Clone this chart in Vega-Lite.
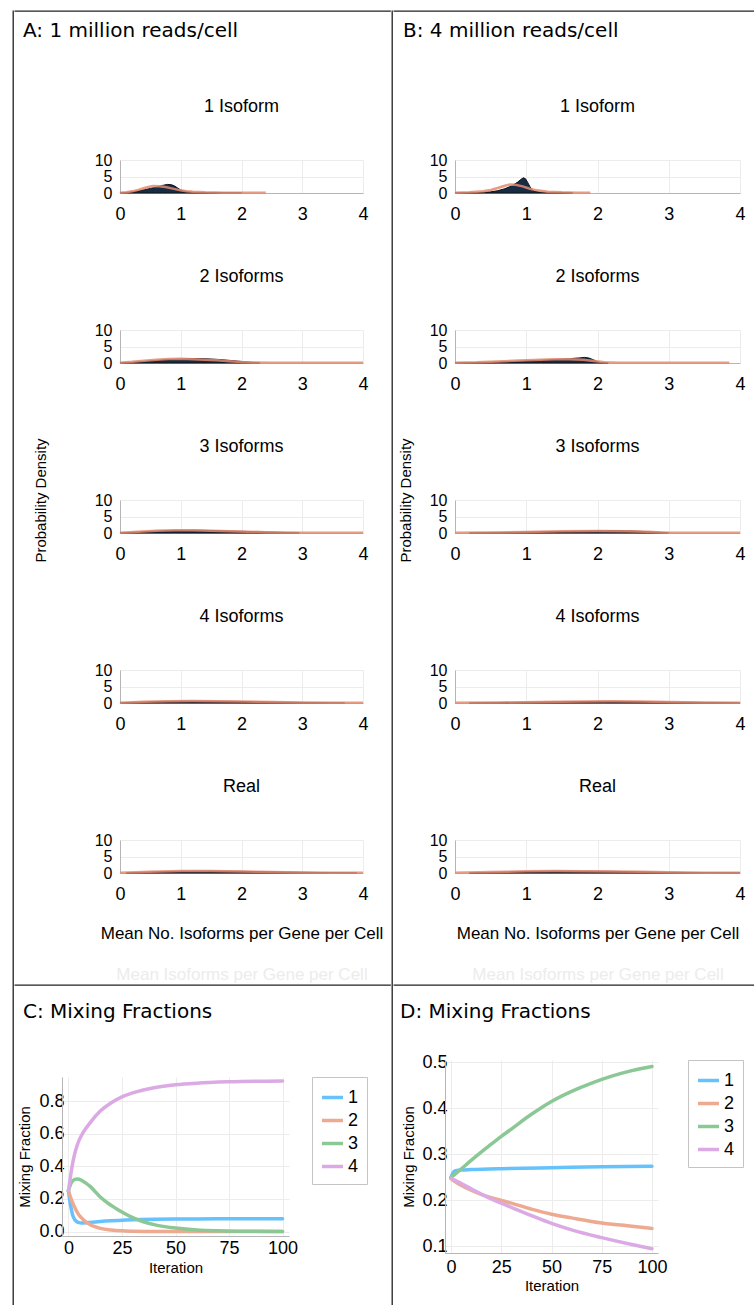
{
"$schema": "https://vega.github.io/schema/vega-lite/v6.json",
"padding": {"left": 12, "top": 10, "right": 0, "bottom": 0},
"background": "white",
"config": {
  "view": {"stroke": null},
  "axis": {"labelFont": "Liberation Sans", "titleFont": "Liberation Sans", "labelColor": "#000", "titleColor": "#000", "titleFontWeight": "normal", "domainColor": "#b5b5b5", "gridColor": "#ececec", "ticks": false, "labelOverlap": false, "labelFlush": false, "labelBound": false},
  "title": {"font": "Liberation Sans", "fontWeight": "normal", "color": "#000"},
  "legend": {"labelFont": "Liberation Sans"}
},
"datasets": {
  "A1d": [{"x":0,"y":0.05},{"x":0.1,"y":0.15},{"x":0.2,"y":0.35},{"x":0.3,"y":0.6},{"x":0.4,"y":1.0},{"x":0.5,"y":1.4},{"x":0.6,"y":1.8},{"x":0.7,"y":2.3},{"x":0.78,"y":2.6},{"x":0.85,"y":2.5},{"x":0.9,"y":2.1},{"x":0.95,"y":1.5},{"x":1.0,"y":0.9},{"x":1.1,"y":0.4},{"x":1.2,"y":0.2},{"x":1.4,"y":0.1},{"x":1.7,"y":0.05},{"x":2.0,"y":0.03}],
  "A1s": [{"x":0,"y":0.1},{"x":0.1,"y":0.25},{"x":0.2,"y":0.5},{"x":0.3,"y":0.95},{"x":0.4,"y":1.5},{"x":0.5,"y":1.95},{"x":0.55,"y":2.1},{"x":0.65,"y":2.05},{"x":0.75,"y":1.8},{"x":0.85,"y":1.4},{"x":1.0,"y":0.8},{"x":1.1,"y":0.5},{"x":1.2,"y":0.35},{"x":1.4,"y":0.2},{"x":1.7,"y":0.1},{"x":2.0,"y":0.06},{"x":2.4,"y":0.04}],
  "B1d": [{"x":0,"y":0.05},{"x":0.2,"y":0.08},{"x":0.4,"y":0.2},{"x":0.5,"y":0.35},{"x":0.6,"y":0.7},{"x":0.7,"y":1.3},{"x":0.8,"y":2.2},{"x":0.88,"y":3.3},{"x":0.93,"y":4.2},{"x":0.96,"y":4.6},{"x":0.99,"y":4.3},{"x":1.02,"y":3.2},{"x":1.05,"y":2.0},{"x":1.08,"y":1.0},{"x":1.12,"y":0.5},{"x":1.2,"y":0.25},{"x":1.4,"y":0.12},{"x":1.65,"y":0.05}],
  "B1s": [{"x":0,"y":0.1},{"x":0.2,"y":0.2},{"x":0.4,"y":0.5},{"x":0.5,"y":0.9},{"x":0.6,"y":1.5},{"x":0.7,"y":2.2},{"x":0.77,"y":2.6},{"x":0.85,"y":2.5},{"x":0.95,"y":2.0},{"x":1.05,"y":1.3},{"x":1.15,"y":0.8},{"x":1.3,"y":0.4},{"x":1.5,"y":0.2},{"x":1.7,"y":0.1},{"x":1.9,"y":0.06}],
  "A2d": [{"x":0,"y":0.05},{"x":0.2,"y":0.2},{"x":0.4,"y":0.5},{"x":0.6,"y":0.8},{"x":0.8,"y":1.05},{"x":1.0,"y":1.2},{"x":1.2,"y":1.35},{"x":1.4,"y":1.3},{"x":1.6,"y":1.1},{"x":1.8,"y":0.8},{"x":2.0,"y":0.45},{"x":2.15,"y":0.2},{"x":2.3,"y":0.05}],
  "A2s": [{"x":0,"y":0.1},{"x":0.2,"y":0.35},{"x":0.4,"y":0.7},{"x":0.6,"y":1.0},{"x":0.8,"y":1.2},{"x":1.0,"y":1.25},{"x":1.2,"y":1.15},{"x":1.4,"y":1.0},{"x":1.6,"y":0.8},{"x":1.8,"y":0.55},{"x":2.0,"y":0.3},{"x":2.2,"y":0.15},{"x":2.5,"y":0.06},{"x":3.0,"y":0.04},{"x":4.0,"y":0.04}],
  "B2d": [{"x":0,"y":0.05},{"x":0.3,"y":0.1},{"x":0.6,"y":0.3},{"x":0.9,"y":0.55},{"x":1.2,"y":0.85},{"x":1.4,"y":1.05},{"x":1.6,"y":1.3},{"x":1.75,"y":1.55},{"x":1.82,"y":1.7},{"x":1.88,"y":1.5},{"x":1.94,"y":1.0},{"x":2.0,"y":0.4},{"x":2.05,"y":0.15},{"x":2.15,"y":0.05}],
  "B2s": [{"x":0,"y":0.1},{"x":0.3,"y":0.2},{"x":0.6,"y":0.45},{"x":0.9,"y":0.75},{"x":1.2,"y":1.0},{"x":1.4,"y":1.1},{"x":1.6,"y":1.1},{"x":1.8,"y":0.95},{"x":1.95,"y":0.6},{"x":2.1,"y":0.25},{"x":2.3,"y":0.1},{"x":2.6,"y":0.05},{"x":3.85,"y":0.04}],
  "A3d": [{"x":0,"y":0.03},{"x":0.3,"y":0.3},{"x":0.6,"y":0.6},{"x":0.9,"y":0.8},{"x":1.2,"y":0.85},{"x":1.5,"y":0.75},{"x":1.8,"y":0.6},{"x":2.1,"y":0.45},{"x":2.4,"y":0.3},{"x":2.7,"y":0.15},{"x":2.95,"y":0.03}],
  "A3s": [{"x":0,"y":0.08},{"x":0.3,"y":0.4},{"x":0.6,"y":0.7},{"x":0.9,"y":0.85},{"x":1.2,"y":0.8},{"x":1.5,"y":0.7},{"x":1.8,"y":0.55},{"x":2.1,"y":0.4},{"x":2.4,"y":0.25},{"x":2.7,"y":0.12},{"x":3.0,"y":0.05},{"x":4.0,"y":0.04}],
  "B3d": [{"x":0.2,"y":0.03},{"x":0.6,"y":0.12},{"x":1.0,"y":0.3},{"x":1.4,"y":0.45},{"x":1.8,"y":0.6},{"x":2.1,"y":0.7},{"x":2.3,"y":0.72},{"x":2.5,"y":0.6},{"x":2.7,"y":0.4},{"x":2.9,"y":0.15},{"x":3.0,"y":0.03}],
  "B3s": [{"x":0,"y":0.08},{"x":0.5,"y":0.15},{"x":1.0,"y":0.3},{"x":1.5,"y":0.5},{"x":2.0,"y":0.6},{"x":2.4,"y":0.55},{"x":2.7,"y":0.35},{"x":3.0,"y":0.1},{"x":3.3,"y":0.05},{"x":4.0,"y":0.04}],
  "A4d": [{"x":0,"y":0.03},{"x":0.3,"y":0.25},{"x":0.7,"y":0.5},{"x":1.1,"y":0.6},{"x":1.5,"y":0.55},{"x":2.0,"y":0.45},{"x":2.5,"y":0.3},{"x":3.0,"y":0.15},{"x":3.4,"y":0.06},{"x":3.7,"y":0.02}],
  "A4s": [{"x":0,"y":0.08},{"x":0.4,"y":0.35},{"x":0.8,"y":0.55},{"x":1.2,"y":0.6},{"x":1.6,"y":0.5},{"x":2.0,"y":0.42},{"x":2.5,"y":0.28},{"x":3.0,"y":0.15},{"x":3.5,"y":0.07},{"x":4.0,"y":0.04}],
  "B4d": [{"x":0.2,"y":0.03},{"x":0.7,"y":0.15},{"x":1.2,"y":0.3},{"x":1.7,"y":0.42},{"x":2.1,"y":0.5},{"x":2.5,"y":0.45},{"x":3.0,"y":0.3},{"x":3.5,"y":0.15},{"x":4.0,"y":0.05}],
  "B4s": [{"x":0,"y":0.08},{"x":0.6,"y":0.15},{"x":1.2,"y":0.3},{"x":1.8,"y":0.45},{"x":2.2,"y":0.5},{"x":2.6,"y":0.42},{"x":3.0,"y":0.3},{"x":3.5,"y":0.15},{"x":4.0,"y":0.05}],
  "A5d": [{"x":0.1,"y":0.03},{"x":0.5,"y":0.3},{"x":1.0,"y":0.55},{"x":1.5,"y":0.6},{"x":2.0,"y":0.5},{"x":2.5,"y":0.35},{"x":3.0,"y":0.2},{"x":3.5,"y":0.1},{"x":3.9,"y":0.03}],
  "A5s": [{"x":0,"y":0.08},{"x":0.5,"y":0.35},{"x":1.0,"y":0.6},{"x":1.5,"y":0.58},{"x":2.0,"y":0.48},{"x":2.5,"y":0.32},{"x":3.0,"y":0.18},{"x":3.5,"y":0.08},{"x":4.0,"y":0.04}],
  "B5d": [{"x":0.2,"y":0.03},{"x":0.6,"y":0.25},{"x":1.0,"y":0.45},{"x":1.4,"y":0.6},{"x":1.8,"y":0.55},{"x":2.2,"y":0.5},{"x":2.6,"y":0.35},{"x":3.0,"y":0.2},{"x":3.5,"y":0.1},{"x":4.0,"y":0.03}],
  "B5s": [{"x":0,"y":0.08},{"x":0.5,"y":0.3},{"x":1.0,"y":0.5},{"x":1.4,"y":0.6},{"x":1.8,"y":0.55},{"x":2.2,"y":0.48},{"x":2.6,"y":0.35},{"x":3.0,"y":0.2},{"x":3.5,"y":0.1},{"x":4.0,"y":0.04}],
  "C": [
    {"it":0,"v":0.25,"s":"1"},{"it":1,"v":0.16,"s":"1"},{"it":2,"v":0.1,"s":"1"},{"it":3,"v":0.072,"s":"1"},{"it":4,"v":0.06,"s":"1"},{"it":5,"v":0.054,"s":"1"},{"it":6,"v":0.052,"s":"1"},{"it":8,"v":0.053,"s":"1"},{"it":10,"v":0.056,"s":"1"},{"it":15,"v":0.062,"s":"1"},{"it":20,"v":0.066,"s":"1"},{"it":25,"v":0.069,"s":"1"},{"it":30,"v":0.072,"s":"1"},{"it":40,"v":0.075,"s":"1"},{"it":50,"v":0.076,"s":"1"},{"it":60,"v":0.077,"s":"1"},{"it":75,"v":0.078,"s":"1"},{"it":100,"v":0.078,"s":"1"},
    {"it":0,"v":0.25,"s":"2"},{"it":1,"v":0.21,"s":"2"},{"it":2,"v":0.175,"s":"2"},{"it":3,"v":0.145,"s":"2"},{"it":4,"v":0.12,"s":"2"},{"it":5,"v":0.1,"s":"2"},{"it":6,"v":0.085,"s":"2"},{"it":8,"v":0.06,"s":"2"},{"it":10,"v":0.043,"s":"2"},{"it":12,"v":0.031,"s":"2"},{"it":15,"v":0.019,"s":"2"},{"it":20,"v":0.009,"s":"2"},{"it":25,"v":0.004,"s":"2"},{"it":30,"v":0.002,"s":"2"},{"it":40,"v":0.0005,"s":"2"},{"it":50,"v":0,"s":"2"},{"it":75,"v":0,"s":"2"},{"it":100,"v":0,"s":"2"},
    {"it":0,"v":0.25,"s":"3"},{"it":1,"v":0.29,"s":"3"},{"it":2,"v":0.31,"s":"3"},{"it":3,"v":0.32,"s":"3"},{"it":4,"v":0.322,"s":"3"},{"it":6,"v":0.315,"s":"3"},{"it":8,"v":0.298,"s":"3"},{"it":10,"v":0.278,"s":"3"},{"it":12,"v":0.252,"s":"3"},{"it":15,"v":0.21,"s":"3"},{"it":18,"v":0.178,"s":"3"},{"it":22,"v":0.143,"s":"3"},{"it":26,"v":0.112,"s":"3"},{"it":30,"v":0.085,"s":"3"},{"it":35,"v":0.06,"s":"3"},{"it":40,"v":0.042,"s":"3"},{"it":45,"v":0.03,"s":"3"},{"it":50,"v":0.021,"s":"3"},{"it":60,"v":0.009,"s":"3"},{"it":70,"v":0.004,"s":"3"},{"it":80,"v":0.002,"s":"3"},{"it":100,"v":0.0005,"s":"3"},
    {"it":0,"v":0.25,"s":"4"},{"it":1,"v":0.34,"s":"4"},{"it":2,"v":0.42,"s":"4"},{"it":3,"v":0.48,"s":"4"},{"it":4,"v":0.525,"s":"4"},{"it":5,"v":0.56,"s":"4"},{"it":7,"v":0.61,"s":"4"},{"it":10,"v":0.665,"s":"4"},{"it":15,"v":0.74,"s":"4"},{"it":20,"v":0.79,"s":"4"},{"it":25,"v":0.826,"s":"4"},{"it":30,"v":0.85,"s":"4"},{"it":40,"v":0.882,"s":"4"},{"it":50,"v":0.9,"s":"4"},{"it":60,"v":0.91,"s":"4"},{"it":75,"v":0.918,"s":"4"},{"it":100,"v":0.923,"s":"4"}
  ],
  "D": [
    {"it":0,"v":0.25,"s":"1"},{"it":1,"v":0.26,"s":"1"},{"it":2,"v":0.264,"s":"1"},{"it":3,"v":0.265,"s":"1"},{"it":5,"v":0.266,"s":"1"},{"it":10,"v":0.267,"s":"1"},{"it":25,"v":0.269,"s":"1"},{"it":50,"v":0.271,"s":"1"},{"it":75,"v":0.273,"s":"1"},{"it":100,"v":0.274,"s":"1"},
    {"it":0,"v":0.247,"s":"2"},{"it":2,"v":0.241,"s":"2"},{"it":5,"v":0.233,"s":"2"},{"it":10,"v":0.222,"s":"2"},{"it":15,"v":0.213,"s":"2"},{"it":20,"v":0.206,"s":"2"},{"it":25,"v":0.2,"s":"2"},{"it":30,"v":0.194,"s":"2"},{"it":40,"v":0.181,"s":"2"},{"it":50,"v":0.17,"s":"2"},{"it":60,"v":0.162,"s":"2"},{"it":75,"v":0.151,"s":"2"},{"it":90,"v":0.144,"s":"2"},{"it":100,"v":0.139,"s":"2"},
    {"it":0,"v":0.25,"s":"3"},{"it":5,"v":0.268,"s":"3"},{"it":10,"v":0.287,"s":"3"},{"it":15,"v":0.305,"s":"3"},{"it":20,"v":0.322,"s":"3"},{"it":25,"v":0.339,"s":"3"},{"it":30,"v":0.355,"s":"3"},{"it":40,"v":0.387,"s":"3"},{"it":50,"v":0.415,"s":"3"},{"it":60,"v":0.437,"s":"3"},{"it":70,"v":0.455,"s":"3"},{"it":80,"v":0.47,"s":"3"},{"it":90,"v":0.482,"s":"3"},{"it":100,"v":0.491,"s":"3"},
    {"it":0,"v":0.248,"s":"4"},{"it":5,"v":0.237,"s":"4"},{"it":10,"v":0.225,"s":"4"},{"it":15,"v":0.214,"s":"4"},{"it":20,"v":0.203,"s":"4"},{"it":25,"v":0.194,"s":"4"},{"it":30,"v":0.185,"s":"4"},{"it":40,"v":0.167,"s":"4"},{"it":50,"v":0.15,"s":"4"},{"it":60,"v":0.136,"s":"4"},{"it":75,"v":0.119,"s":"4"},{"it":90,"v":0.104,"s":"4"},{"it":100,"v":0.095,"s":"4"}
  ]
},
"spacing": 0,
"resolve": {"scale": {"color": "independent"}, "legend": {"color": "independent"}},
"hconcat": [
  {"width": 0.01, "height": 1295, "view": {"stroke": "#222", "strokeWidth": 1.3}, "data": {"values": []}, "mark": "point", "encoding": {}},
  {"spacing": 0, "resolve": {"scale": {"color": "independent"}, "legend": {"color": "independent"}}, "vconcat": [
    {"width": 375, "height": 0.01, "view": {"stroke": "#222", "strokeWidth": 1.3}, "data": {"values": []}, "mark": "point", "encoding": {},
     "title": {"text": "A: 1 million reads/cell", "orient": "bottom", "anchor": "start", "frame": "group", "dx": 8, "offset": 10, "font": "DejaVu Sans", "fontSize": 20, "fontWeight": "normal", "color": "#000"}},
    {"width": 0.01, "height": 56, "data": {"values": []}, "mark": "point", "encoding": {}},
    {"spacing": 0, "hconcat": [
      {"width": 18, "height": 0.01, "data": {"values": []}, "mark": "point", "encoding": {}},
      {"spacing": 137, "bounds": "flush", "vconcat": [
        {"width": 243, "height": 33, "title": {"text": "1 Isoform", "fontSize": 18, "offset": 36, "frame": "group", "anchor": "middle"},
         "layer": [
          {"data": {"name": "A1d"}, "mark": {"type": "area", "color": "#162c44", "stroke": "#0b1118", "strokeWidth": 1},
           "encoding": {"x": {"field": "x", "type": "quantitative", "scale": {"domain": [0, 4], "nice": false}, "axis": {"values": [0,1,2,3,4], "tickCount": 10, "format": "d", "labelFontSize": 18, "labelPadding": 12, "labelOverlap": false, "grid": true, "title": null}},
                        "y": {"field": "y", "type": "quantitative", "scale": {"domain": [0, 10], "nice": false}, "axis": {"values": [0,5,10], "tickCount": 10, "labelFontSize": 16, "labelPadding": 8, "labelOverlap": false, "grid": true, "title": null}}}},
          {"data": {"name": "A1s"}, "mark": {"type": "line", "color": "#e58a6e", "strokeWidth": 2.5, "opacity": 0.85},
           "encoding": {"x": {"field": "x", "type": "quantitative"}, "y": {"field": "y", "type": "quantitative"}}}
         ]},
        {"width": 243, "height": 33, "title": {"text": "2 Isoforms", "fontSize": 18, "offset": 36, "frame": "group", "anchor": "middle"},
         "layer": [
          {"data": {"name": "A2d"}, "mark": {"type": "area", "color": "#162c44", "stroke": "#0b1118", "strokeWidth": 1},
           "encoding": {"x": {"field": "x", "type": "quantitative", "scale": {"domain": [0, 4], "nice": false}, "axis": {"values": [0,1,2,3,4], "tickCount": 10, "format": "d", "labelFontSize": 18, "labelPadding": 12, "labelOverlap": false, "grid": true, "title": null}},
                        "y": {"field": "y", "type": "quantitative", "scale": {"domain": [0, 10], "nice": false}, "axis": {"values": [0,5,10], "tickCount": 10, "labelFontSize": 16, "labelPadding": 8, "labelOverlap": false, "grid": true, "title": "Probability Density", "titleFontSize": 15, "titleX": -80, "titleY": 170, "titleAngle": 270, "titleBaseline": "middle", "titleAlign": "center"}}}},
          {"data": {"name": "A2s"}, "mark": {"type": "line", "color": "#e58a6e", "strokeWidth": 2.5, "opacity": 0.85},
           "encoding": {"x": {"field": "x", "type": "quantitative"}, "y": {"field": "y", "type": "quantitative"}}}
         ]},
        {"width": 243, "height": 33, "title": {"text": "3 Isoforms", "fontSize": 18, "offset": 36, "frame": "group", "anchor": "middle"},
         "layer": [
          {"data": {"name": "A3d"}, "mark": {"type": "area", "color": "#162c44", "stroke": "#0b1118", "strokeWidth": 1},
           "encoding": {"x": {"field": "x", "type": "quantitative", "scale": {"domain": [0, 4], "nice": false}, "axis": {"values": [0,1,2,3,4], "tickCount": 10, "format": "d", "labelFontSize": 18, "labelPadding": 12, "labelOverlap": false, "grid": true, "title": null}},
                        "y": {"field": "y", "type": "quantitative", "scale": {"domain": [0, 10], "nice": false}, "axis": {"values": [0,5,10], "tickCount": 10, "labelFontSize": 16, "labelPadding": 8, "labelOverlap": false, "grid": true, "title": null}}}},
          {"data": {"name": "A3s"}, "mark": {"type": "line", "color": "#e58a6e", "strokeWidth": 2.5, "opacity": 0.85},
           "encoding": {"x": {"field": "x", "type": "quantitative"}, "y": {"field": "y", "type": "quantitative"}}}
         ]},
        {"width": 243, "height": 33, "title": {"text": "4 Isoforms", "fontSize": 18, "offset": 36, "frame": "group", "anchor": "middle"},
         "layer": [
          {"data": {"name": "A4d"}, "mark": {"type": "area", "color": "#162c44", "stroke": "#0b1118", "strokeWidth": 1},
           "encoding": {"x": {"field": "x", "type": "quantitative", "scale": {"domain": [0, 4], "nice": false}, "axis": {"values": [0,1,2,3,4], "tickCount": 10, "format": "d", "labelFontSize": 18, "labelPadding": 12, "labelOverlap": false, "grid": true, "title": null}},
                        "y": {"field": "y", "type": "quantitative", "scale": {"domain": [0, 10], "nice": false}, "axis": {"values": [0,5,10], "tickCount": 10, "labelFontSize": 16, "labelPadding": 8, "labelOverlap": false, "grid": true, "title": null}}}},
          {"data": {"name": "A4s"}, "mark": {"type": "line", "color": "#e58a6e", "strokeWidth": 2.5, "opacity": 0.85},
           "encoding": {"x": {"field": "x", "type": "quantitative"}, "y": {"field": "y", "type": "quantitative"}}}
         ]},
        {"width": 243, "height": 33, "title": {"text": "Real", "fontSize": 18, "offset": 36, "frame": "group", "anchor": "middle"},
         "resolve": {"axis": {"x": "independent"}},
         "layer": [
          {"data": {"name": "A5d"}, "mark": {"type": "area", "color": "#162c44", "stroke": "#0b1118", "strokeWidth": 1},
           "encoding": {"x": {"field": "x", "type": "quantitative", "scale": {"domain": [0, 4], "nice": false}, "axis": {"values": [0,1,2,3,4], "tickCount": 10, "format": "d", "labelFontSize": 18, "labelPadding": 12, "labelOverlap": false, "grid": true, "title": "Mean No. Isoforms per Gene per Cell", "titleFontSize": 17, "titlePadding": 22}},
                        "y": {"field": "y", "type": "quantitative", "scale": {"domain": [0, 10], "nice": false}, "axis": {"values": [0,5,10], "tickCount": 10, "labelFontSize": 16, "labelPadding": 8, "labelOverlap": false, "grid": true, "title": null}}}},
          {"data": {"name": "A5s"}, "mark": {"type": "line", "color": "#e58a6e", "strokeWidth": 2.5, "opacity": 0.85},
           "encoding": {"x": {"field": "x", "type": "quantitative", "axis": {"orient": "bottom", "labels": false, "domain": false, "grid": false, "ticks": false, "title": "Mean Isoforms per Gene per Cell", "titleFontSize": 17, "titleColor": "#ececec", "titlePadding": 93}}, "y": {"field": "y", "type": "quantitative"}}}
         ]}
      ]}
    ]},
    {"width": 0.01, "height": 2, "data": {"values": []}, "mark": "point", "encoding": {}},
    {"width": 375, "height": 0.01, "view": {"stroke": "#222", "strokeWidth": 1.3}, "data": {"values": []}, "mark": "point", "encoding": {},
     "title": {"text": "C: Mixing Fractions", "orient": "bottom", "anchor": "start", "frame": "group", "dx": 8, "offset": 17, "font": "DejaVu Sans", "fontSize": 20, "fontWeight": "normal", "color": "#000"}},
    {"width": 0.01, "height": 51, "data": {"values": []}, "mark": "point", "encoding": {}},
    {"spacing": 0, "resolve": {"scale": {"color": "independent"}, "legend": {"color": "independent"}}, "hconcat": [
      {"width": 2, "height": 0.01, "data": {"values": []}, "mark": "point", "encoding": {}},
      {"width": 227, "height": 159, "data": {"name": "C"},
       "mark": {"type": "line", "strokeWidth": 3.5, "interpolate": "monotone", "strokeCap": "round"},
       "encoding": {
         "x": {"field": "it", "type": "quantitative", "scale": {"domain": [-3, 103], "nice": false, "zero": false}, "axis": {"values": [0,25,50,75,100], "tickCount": 10, "labelFontSize": 18, "labelPadding": 3, "labelOverlap": false, "grid": true, "title": "Iteration", "titleFontSize": 15, "titlePadding": 3}},
         "y": {"field": "v", "type": "quantitative", "scale": {"domain": [-0.0276, 0.9476], "nice": false, "zero": false}, "axis": {"values": [0,0.2,0.4,0.6,0.8], "tickCount": 10, "format": ".1f", "labelFontSize": 18, "labelPadding": -2, "labelOverlap": false, "grid": true, "title": "Mixing Fraction", "titleFontSize": 15, "titlePadding": 6}},
         "color": {"field": "s", "type": "nominal", "scale": {"domain": ["1","2","3","4"], "range": ["#66c2fc", "#eea991", "#8bc895", "#dbaae4"]},
                   "legend": {"title": null, "orient": "right", "offset": 22, "padding": 8, "strokeColor": "#c4c4c4", "fillColor": "#ffffff", "symbolType": "stroke", "symbolStrokeWidth": 3.5, "symbolSize": 441, "labelFontSize": 18, "rowPadding": 1, "labelOffset": 3, "cornerRadius": 0}}
       }}
    ]}
  ]},
  {"width": 0.01, "height": 1295, "view": {"stroke": "#222", "strokeWidth": 1.3}, "data": {"values": []}, "mark": "point", "encoding": {}},
  {"spacing": 0, "resolve": {"scale": {"color": "independent"}, "legend": {"color": "independent"}}, "vconcat": [
    {"width": 360, "height": 0.01, "view": {"stroke": "#222", "strokeWidth": 1.3}, "data": {"values": []}, "mark": "point", "encoding": {},
     "title": {"text": "B: 4 million reads/cell", "orient": "bottom", "anchor": "start", "frame": "group", "dx": 9, "offset": 10, "font": "DejaVu Sans", "fontSize": 20, "fontWeight": "normal", "color": "#000"}},
    {"width": 0.01, "height": 56, "data": {"values": []}, "mark": "point", "encoding": {}},
    {"spacing": 0, "hconcat": [
      {"width": 4, "height": 0.01, "data": {"values": []}, "mark": "point", "encoding": {}},
      {"spacing": 137, "bounds": "flush", "vconcat": [
        {"width": 285, "height": 33, "title": {"text": "1 Isoform", "fontSize": 18, "offset": 36, "frame": "group", "anchor": "middle"},
         "layer": [
          {"data": {"name": "B1d"}, "mark": {"type": "area", "color": "#162c44", "stroke": "#0b1118", "strokeWidth": 1},
           "encoding": {"x": {"field": "x", "type": "quantitative", "scale": {"domain": [0, 4], "nice": false}, "axis": {"values": [0,1,2,3,4], "tickCount": 10, "format": "d", "labelFontSize": 18, "labelPadding": 12, "labelOverlap": false, "grid": true, "title": null}},
                        "y": {"field": "y", "type": "quantitative", "scale": {"domain": [0, 10], "nice": false}, "axis": {"values": [0,5,10], "tickCount": 10, "labelFontSize": 16, "labelPadding": 8, "labelOverlap": false, "grid": true, "title": null}}}},
          {"data": {"name": "B1s"}, "mark": {"type": "line", "color": "#e58a6e", "strokeWidth": 2.5, "opacity": 0.85},
           "encoding": {"x": {"field": "x", "type": "quantitative"}, "y": {"field": "y", "type": "quantitative"}}}
         ]},
        {"width": 285, "height": 33, "title": {"text": "2 Isoforms", "fontSize": 18, "offset": 36, "frame": "group", "anchor": "middle"},
         "layer": [
          {"data": {"name": "B2d"}, "mark": {"type": "area", "color": "#162c44", "stroke": "#0b1118", "strokeWidth": 1},
           "encoding": {"x": {"field": "x", "type": "quantitative", "scale": {"domain": [0, 4], "nice": false}, "axis": {"values": [0,1,2,3,4], "tickCount": 10, "format": "d", "labelFontSize": 18, "labelPadding": 12, "labelOverlap": false, "grid": true, "title": null}},
                        "y": {"field": "y", "type": "quantitative", "scale": {"domain": [0, 10], "nice": false}, "axis": {"values": [0,5,10], "tickCount": 10, "labelFontSize": 16, "labelPadding": 8, "labelOverlap": false, "grid": true, "title": "Probability Density", "titleFontSize": 15, "titleX": -50, "titleY": 170, "titleAngle": 270, "titleBaseline": "middle", "titleAlign": "center"}}}},
          {"data": {"name": "B2s"}, "mark": {"type": "line", "color": "#e58a6e", "strokeWidth": 2.5, "opacity": 0.85},
           "encoding": {"x": {"field": "x", "type": "quantitative"}, "y": {"field": "y", "type": "quantitative"}}}
         ]},
        {"width": 285, "height": 33, "title": {"text": "3 Isoforms", "fontSize": 18, "offset": 36, "frame": "group", "anchor": "middle"},
         "layer": [
          {"data": {"name": "B3d"}, "mark": {"type": "area", "color": "#162c44", "stroke": "#0b1118", "strokeWidth": 1},
           "encoding": {"x": {"field": "x", "type": "quantitative", "scale": {"domain": [0, 4], "nice": false}, "axis": {"values": [0,1,2,3,4], "tickCount": 10, "format": "d", "labelFontSize": 18, "labelPadding": 12, "labelOverlap": false, "grid": true, "title": null}},
                        "y": {"field": "y", "type": "quantitative", "scale": {"domain": [0, 10], "nice": false}, "axis": {"values": [0,5,10], "tickCount": 10, "labelFontSize": 16, "labelPadding": 8, "labelOverlap": false, "grid": true, "title": null}}}},
          {"data": {"name": "B3s"}, "mark": {"type": "line", "color": "#e58a6e", "strokeWidth": 2.5, "opacity": 0.85},
           "encoding": {"x": {"field": "x", "type": "quantitative"}, "y": {"field": "y", "type": "quantitative"}}}
         ]},
        {"width": 285, "height": 33, "title": {"text": "4 Isoforms", "fontSize": 18, "offset": 36, "frame": "group", "anchor": "middle"},
         "layer": [
          {"data": {"name": "B4d"}, "mark": {"type": "area", "color": "#162c44", "stroke": "#0b1118", "strokeWidth": 1},
           "encoding": {"x": {"field": "x", "type": "quantitative", "scale": {"domain": [0, 4], "nice": false}, "axis": {"values": [0,1,2,3,4], "tickCount": 10, "format": "d", "labelFontSize": 18, "labelPadding": 12, "labelOverlap": false, "grid": true, "title": null}},
                        "y": {"field": "y", "type": "quantitative", "scale": {"domain": [0, 10], "nice": false}, "axis": {"values": [0,5,10], "tickCount": 10, "labelFontSize": 16, "labelPadding": 8, "labelOverlap": false, "grid": true, "title": null}}}},
          {"data": {"name": "B4s"}, "mark": {"type": "line", "color": "#e58a6e", "strokeWidth": 2.5, "opacity": 0.85},
           "encoding": {"x": {"field": "x", "type": "quantitative"}, "y": {"field": "y", "type": "quantitative"}}}
         ]},
        {"width": 285, "height": 33, "title": {"text": "Real", "fontSize": 18, "offset": 36, "frame": "group", "anchor": "middle"},
         "resolve": {"axis": {"x": "independent"}},
         "layer": [
          {"data": {"name": "B5d"}, "mark": {"type": "area", "color": "#162c44", "stroke": "#0b1118", "strokeWidth": 1},
           "encoding": {"x": {"field": "x", "type": "quantitative", "scale": {"domain": [0, 4], "nice": false}, "axis": {"values": [0,1,2,3,4], "tickCount": 10, "format": "d", "labelFontSize": 18, "labelPadding": 12, "labelOverlap": false, "grid": true, "title": "Mean No. Isoforms per Gene per Cell", "titleFontSize": 17, "titlePadding": 22}},
                        "y": {"field": "y", "type": "quantitative", "scale": {"domain": [0, 10], "nice": false}, "axis": {"values": [0,5,10], "tickCount": 10, "labelFontSize": 16, "labelPadding": 8, "labelOverlap": false, "grid": true, "title": null}}}},
          {"data": {"name": "B5s"}, "mark": {"type": "line", "color": "#e58a6e", "strokeWidth": 2.5, "opacity": 0.85},
           "encoding": {"x": {"field": "x", "type": "quantitative", "axis": {"orient": "bottom", "labels": false, "domain": false, "grid": false, "ticks": false, "title": "Mean Isoforms per Gene per Cell", "titleFontSize": 17, "titleColor": "#ececec", "titlePadding": 93}}, "y": {"field": "y", "type": "quantitative"}}}
         ]}
      ]}
    ]},
    {"width": 0.01, "height": 2, "data": {"values": []}, "mark": "point", "encoding": {}},
    {"width": 360, "height": 0.01, "view": {"stroke": "#222", "strokeWidth": 1.3}, "data": {"values": []}, "mark": "point", "encoding": {},
     "title": {"text": "D: Mixing Fractions", "orient": "bottom", "anchor": "start", "frame": "group", "dx": 6, "offset": 17, "font": "DejaVu Sans", "fontSize": 20, "fontWeight": "normal", "color": "#000"}},
    {"width": 0.01, "height": 30, "data": {"values": []}, "mark": "point", "encoding": {}},
    {"spacing": 0, "resolve": {"scale": {"color": "independent"}, "legend": {"color": "independent"}}, "hconcat": [
      {"width": 7, "height": 0.01, "data": {"values": []}, "mark": "point", "encoding": {}},
      {"width": 213, "height": 193, "data": {"name": "D"},
       "mark": {"type": "line", "strokeWidth": 3.5, "interpolate": "monotone", "strokeCap": "round"},
       "encoding": {
         "x": {"field": "it", "type": "quantitative", "scale": {"domain": [-3, 103], "nice": false, "zero": false}, "axis": {"values": [0,25,50,75,100], "tickCount": 10, "labelFontSize": 18, "labelPadding": 5, "labelOverlap": false, "grid": true, "title": "Iteration", "titleFontSize": 15, "titlePadding": 2}},
         "y": {"field": "v", "type": "quantitative", "scale": {"domain": [0.0857, 0.505], "nice": false, "zero": false}, "axis": {"values": [0.1,0.2,0.3,0.4,0.5], "tickCount": 10, "format": ".1f", "labelFontSize": 18, "labelPadding": -2, "labelOverlap": false, "grid": true, "title": "Mixing Fraction", "titleFontSize": 15, "titlePadding": 5}},
         "color": {"field": "s", "type": "nominal", "scale": {"domain": ["1","2","3","4"], "range": ["#66c2fc", "#eea991", "#8bc895", "#dbaae4"]},
                   "legend": {"title": null, "orient": "right", "offset": 29, "padding": 8, "strokeColor": "#c4c4c4", "fillColor": "#ffffff", "symbolType": "stroke", "symbolStrokeWidth": 3.5, "symbolSize": 441, "labelFontSize": 18, "rowPadding": 1, "labelOffset": 3, "cornerRadius": 0}}
       }}
    ]}
  ]},
  {"width": 0.01, "height": 1295, "view": {"stroke": "#222", "strokeWidth": 1.3}, "data": {"values": []}, "mark": "point", "encoding": {}}
]
}
